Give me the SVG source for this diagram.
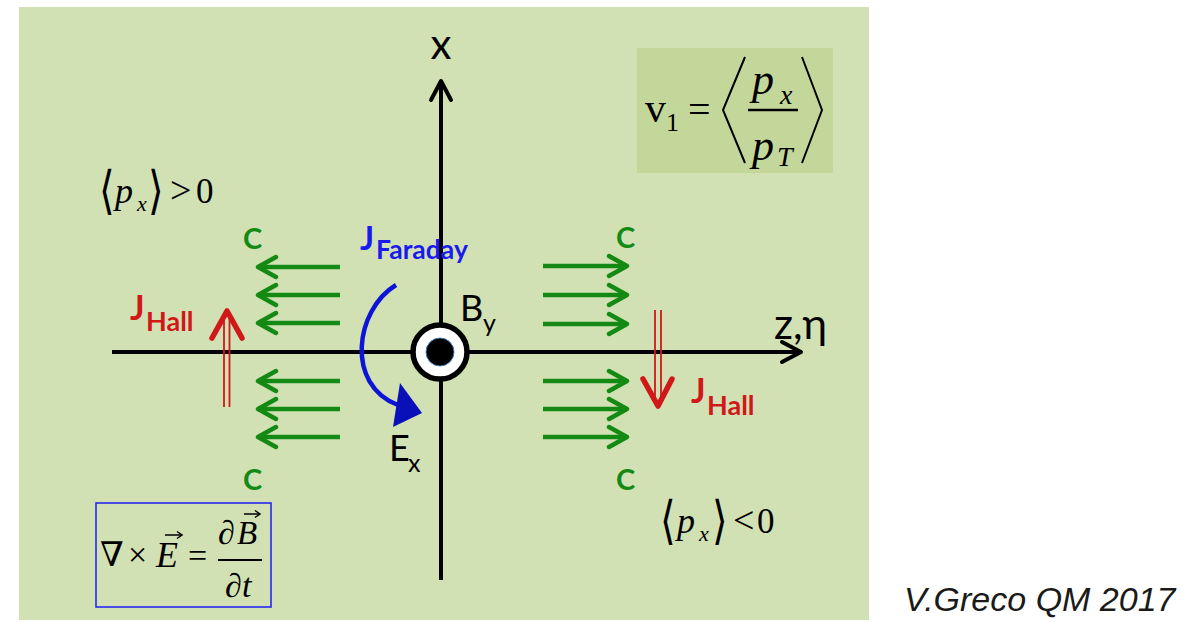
<svg xmlns="http://www.w3.org/2000/svg" width="1203" height="622" viewBox="0 0 1203 622">
<style>
.sans{font-family:Lato,"Liberation Sans",sans-serif}
.bold{font-family:Lato,"Liberation Sans",sans-serif;font-weight:bold}
.serif{font-family:"Liberation Serif","DejaVu Serif",serif}
.it{font-family:"Liberation Serif","DejaVu Serif",serif;font-style:italic}
.br{font-family:"DejaVu Sans",sans-serif}
.delim{fill:none;stroke:#000;stroke-width:2}
.axis{stroke:#000;stroke-width:4;fill:none}
.garr{stroke:#148a14;stroke-width:4.5;fill:none}
.rline{stroke:#d01818;stroke-width:1.8;fill:none}
.rhead{stroke:#d01818;stroke-width:5.5;fill:none;stroke-linecap:round;stroke-linejoin:round}
.green{fill:#148a14}
.red{fill:#d01818}
.blue{fill:#1a1aee}
</style>
<defs>
<marker id="kchev" viewBox="0 0 26 26" refX="22" refY="13" markerWidth="26" markerHeight="26" markerUnits="userSpaceOnUse" orient="auto">
<path d="M3,3 L22,13 L3,23" fill="none" stroke="#000" stroke-width="4" stroke-linecap="round" stroke-linejoin="round"/>
</marker>
<marker id="gchev" viewBox="0 0 26 26" refX="22" refY="13" markerWidth="26" markerHeight="26" markerUnits="userSpaceOnUse" orient="auto">
<path d="M4,3 L22,13 L4,23" fill="none" stroke="#148a14" stroke-width="4.5" stroke-linecap="round" stroke-linejoin="round"/>
</marker>
</defs>
<rect x="19" y="7" width="850" height="613" fill="#d2e1b4"/>

<g id="connectors">
<line class="axis" x1="441" y1="580" x2="441" y2="81" marker-end="url(#kchev)"/>
<line class="axis" x1="112" y1="352" x2="801" y2="352" marker-end="url(#kchev)"/>
<g id="green-left">
<line class="garr" x1="340" y1="267" x2="258" y2="267" marker-end="url(#gchev)"/>
<line class="garr" x1="340" y1="295" x2="258" y2="295" marker-end="url(#gchev)"/>
<line class="garr" x1="340" y1="323" x2="258" y2="323" marker-end="url(#gchev)"/>
<line class="garr" x1="340" y1="381" x2="258" y2="381" marker-end="url(#gchev)"/>
<line class="garr" x1="340" y1="409" x2="258" y2="409" marker-end="url(#gchev)"/>
<line class="garr" x1="340" y1="437" x2="258" y2="437" marker-end="url(#gchev)"/>
</g>
<g id="green-right">
<line class="garr" x1="543" y1="266" x2="627" y2="266" marker-end="url(#gchev)"/>
<line class="garr" x1="543" y1="295" x2="627" y2="295" marker-end="url(#gchev)"/>
<line class="garr" x1="543" y1="324" x2="627" y2="324" marker-end="url(#gchev)"/>
<line class="garr" x1="543" y1="381" x2="627" y2="381" marker-end="url(#gchev)"/>
<line class="garr" x1="543" y1="409" x2="627" y2="409" marker-end="url(#gchev)"/>
<line class="garr" x1="543" y1="437" x2="627" y2="437" marker-end="url(#gchev)"/>
</g>
<g id="hall-left-arrow">
<line class="rline" x1="224" y1="407" x2="224" y2="318"/>
<line class="rline" x1="229.5" y1="407" x2="229.5" y2="318"/>
<polyline class="rhead" points="212,338 227,311 242,338"/>
</g>
<g id="hall-right-arrow">
<line class="rline" x1="655" y1="310" x2="655" y2="400"/>
<line class="rline" x1="661" y1="310" x2="661" y2="400"/>
<polyline class="rhead" points="643,379 658,406 672,379"/>
</g>
<g id="faraday-arrow">
<path d="M396,285 C355,310 345,385 398,405" fill="none" stroke="#0c14d8" stroke-width="4.5"/>
<polygon points="400,383 422,413 393,427" fill="#0a10b8"/>
</g>
</g>

<g id="by-node">
<circle cx="440" cy="352" r="27" fill="#fff" stroke="#000" stroke-width="5.5"/>
<circle cx="440" cy="352" r="14" fill="#000" stroke="#4a7ab0" stroke-width="1"/>
<text class="sans" x="460" y="321" font-size="36">B</text>
<text class="sans" x="483" y="332" font-size="25">y</text>
</g>

<g id="ex-label">
<text class="sans" x="389" y="461" font-size="36">E</text>
<text class="sans" x="408" y="472" font-size="25">x</text>
</g>

<g id="axis-labels">
<text class="sans" x="441" y="59" font-size="42" text-anchor="middle">x</text>
<text class="sans" x="774" y="339" font-size="42">z,η</text>
</g>

<g id="c-labels" class="green">
<text class="bold" x="243" y="249" font-size="29">C</text>
<text class="bold" x="616" y="248" font-size="29">C</text>
<text class="bold" x="243" y="490" font-size="29">C</text>
<text class="bold" x="616" y="490" font-size="29">C</text>
</g>

<g id="j-faraday" class="blue">
<text class="bold" x="360" y="250" font-size="33">J</text>
<text class="bold" x="376" y="259" font-size="26.5">Faraday</text>
</g>

<g id="j-hall-left" class="red">
<text class="bold" x="130" y="320" font-size="34">J</text>
<text class="bold" x="146" y="331" font-size="27">Hall</text>
</g>

<g id="j-hall-right" class="red">
<text class="bold" x="691" y="403" font-size="34">J</text>
<text class="bold" x="707" y="415" font-size="27">Hall</text>
</g>

<g id="v1-formula">
<rect x="637" y="48" width="196" height="125" fill="#c4d79b"/>
<text class="serif" x="645" y="122" font-size="42">v</text>
<text class="serif" x="666" y="131" font-size="26">1</text>
<text class="serif" x="688" y="123" font-size="40">=</text>
<polyline class="delim" points="745,57 723,110 745,163"/>
<line x1="748" y1="110" x2="798" y2="110" stroke="#000" stroke-width="2.5"/>
<text class="it" x="752" y="94" font-size="44">p</text>
<text class="it" x="780" y="104" font-size="28">x</text>
<text class="it" x="752" y="160" font-size="44">p</text>
<text class="it" x="777" y="166" font-size="28">T</text>
<polyline class="delim" points="802,57 822,110 802,163"/>
</g>

<g id="px-positive">
<text class="br" x="0" y="0" font-size="40" transform="translate(99,208) scale(1,1.3)">⟨</text>
<text class="it" x="115" y="203" font-size="36">p</text>
<text class="it" x="137" y="211" font-size="22">x</text>
<text class="br" x="0" y="0" font-size="40" transform="translate(148,208) scale(1,1.3)">⟩</text>
<text class="serif" x="170" y="203" font-size="38">&gt;</text>
<text class="serif" x="196" y="203" font-size="35">0</text>
</g>

<g id="px-negative">
<text class="br" x="0" y="0" font-size="40" transform="translate(660,538) scale(1,1.3)">⟨</text>
<text class="it" x="677" y="533" font-size="36">p</text>
<text class="it" x="699" y="541" font-size="22">x</text>
<text class="br" x="0" y="0" font-size="40" transform="translate(712,538) scale(1,1.3)">⟩</text>
<text class="serif" x="733" y="533" font-size="38">&lt;</text>
<text class="serif" x="757" y="533" font-size="35">0</text>
</g>

<g id="faraday-law">
<rect x="96" y="503" width="175" height="104" fill="none" stroke="#2828f0" stroke-width="1.6"/>
<text class="serif" x="100" y="566" font-size="34">∇</text>
<text class="serif" x="128" y="566" font-size="34">×</text>
<text class="it" x="156" y="567" font-size="36">E</text>
<line x1="165" y1="535" x2="181" y2="535" stroke="#000" stroke-width="1.5"/>
<polyline points="177,531.5 182,535 177,538.5" fill="none" stroke="#000" stroke-width="1.5"/>
<text class="serif" x="188" y="567" font-size="34">=</text>
<line x1="218" y1="560" x2="262" y2="560" stroke="#000" stroke-width="2"/>
<text class="serif" x="218" y="544" font-size="34">∂</text>
<text class="it" x="237" y="544" font-size="33">B</text>
<line x1="244" y1="514" x2="259" y2="514" stroke="#000" stroke-width="1.5"/>
<polyline points="255,510.5 260,514 255,517.5" fill="none" stroke="#000" stroke-width="1.5"/>
<text class="serif" x="225" y="597" font-size="34">∂</text>
<text class="it" x="242" y="597" font-size="34">t</text>
</g>

<text id="credit" x="904" y="611" font-size="34" font-style="italic" fill="#1a1a1a" font-family="Liberation Sans, sans-serif">V.Greco QM 2017</text>
</svg>
